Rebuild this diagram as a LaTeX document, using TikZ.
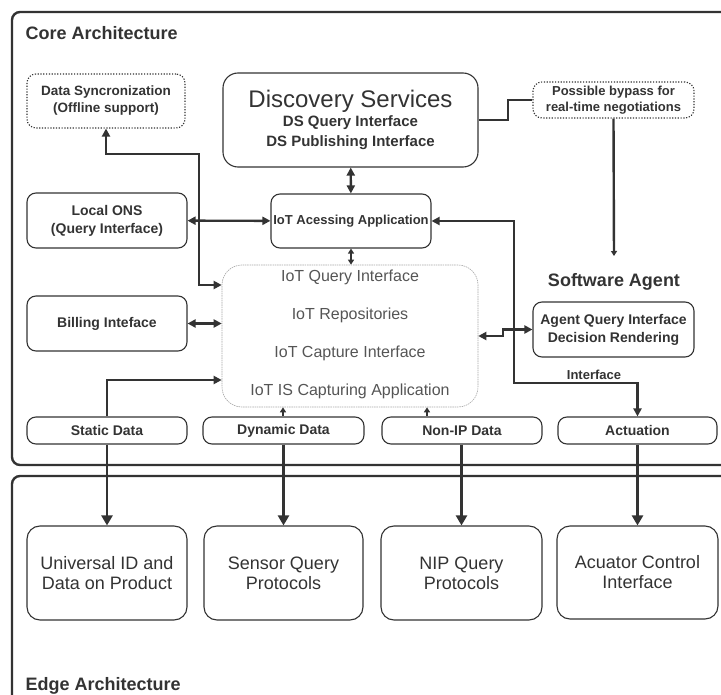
\documentclass[tikz,border=0pt]{standalone}
\usepackage{fontspec}
\setmainfont{Liberation Sans}
\usetikzlibrary{arrows.meta}
\definecolor{ink}{HTML}{333333}
\definecolor{soft}{HTML}{555555}

\begin{document}
\begin{tikzpicture}[x=1pt, y=-1pt, >={Triangle[length=8pt,width=8pt]},
    frame/.style={draw=ink, line width=2.4pt, rounded corners=8pt},
    box/.style={draw=ink, line width=1.1pt, rounded corners=9pt, align=center, inner sep=0pt,
        text=ink, font=\bfseries\fontsize{14}{18}\selectfont},
    dotbox/.style={box, dash pattern=on 1.2pt off 1.6pt},
    lowbox/.style={box, rounded corners=13pt, font=\fontsize{18}{20}\selectfont},
    iotbox/.style={draw=gray!70, line width=0.6pt, dash pattern=on 1.5pt off 0.8pt, rounded corners=20pt, inner sep=0pt},
    iottxt/.style={text=soft, font=\fontsize{16}{18}\selectfont},
    title/.style={text=ink, font=\bfseries\fontsize{18}{20}\selectfont},
    conn/.style={draw=ink, line width=2.4pt},
    tip/.style={>={Triangle[length=5pt,width=6pt]}},
    bigtip/.style={>={Triangle[length=10pt,width=11pt]}}]
    \useasboundingbox (0,0) rectangle (721,695);
    \clip (0,0) rectangle (721,695);
    % the two layers
    \draw[frame] (12,12) rectangle (760,465);
    \draw[frame] (12,476) rectangle (760,740);
    \node[title, anchor=base west] (coretitle) at (22,40) {Core Architecture};
    \node[title, anchor=base west] (edgetitle) at (22,690) {Edge Architecture};
    % core boxes
    \node[dotbox, minimum width=158pt, minimum height=54pt, font=\bfseries\fontsize{13.5}{17}\selectfont] (sync) at (106,101) {Data Syncronization\\(Offline support)};
    \node[box, rounded corners=15pt, minimum width=255pt, minimum height=94pt, font=\bfseries\fontsize{15}{20}\selectfont] (ds) at (350.5,120)
        {{\mdseries\fontsize{24}{24}\selectfont Discovery Services}\\[-1pt]DS Query Interface\\DS Publishing Interface};
    \node[dotbox, minimum width=161pt, minimum height=36pt, font=\bfseries\fontsize{13}{16}\selectfont] (bypass) at (613.5,100) {Possible bypass for\\real-time negotiations};
    \node[box, minimum width=160pt, minimum height=55pt] (ons) at (107,220.5) {Local ONS\\(Query Interface)};
    \node[box, minimum width=160pt, minimum height=54pt, font=\bfseries\fontsize{13}{16}\selectfont] (app) at (351,221) {IoT Acessing Application};
    \node[box, minimum width=160pt, minimum height=55pt] (bill) at (107,323.5) {Billing Inteface};
    \node[title] (satitle) at (614,282) {Software Agent};
    \node[box, minimum width=161pt, minimum height=55pt] (agent) at (613.5,329.5) {Agent Query Interface\\Decision Rendering};
    \node[iotbox, minimum width=256pt, minimum height=142pt] (iot) at (350,336) {};
    \node[iottxt] (iqi) at (350,277) {IoT Query Interface};
    \node[iottxt] (irep) at (350,315) {IoT Repositories};
    \node[iottxt] (icap) at (350,353) {IoT Capture Interface};
    \node[iottxt] (iis) at (350,391) {IoT IS Capturing Application};
    \node[box, minimum width=160pt, minimum height=27pt] (static) at (107,430.5) {Static Data};
    \node[box, minimum width=161pt, minimum height=27pt] (dyn) at (283.5,430.5) {Dynamic Data};
    \node[box, minimum width=160pt, minimum height=27pt] (nip) at (462,430.5) {Non-IP Data};
    \node[box, minimum width=159pt, minimum height=27pt] (act) at (637.5,430.5) {Actuation};
    \node[text=ink, font=\bfseries\fontsize{13}{15}\selectfont] (iflabel) at (594,375) {Interface};
    % edge boxes
    \node[lowbox, minimum width=160pt, minimum height=94pt] (uid) at (107,573) {Universal ID and\\Data on Product};
    \node[lowbox, minimum width=159pt, minimum height=94pt] (sensor) at (283.5,573) {Sensor Query\\Protocols};
    \node[lowbox, minimum width=161pt, minimum height=94pt] (nipq) at (461.5,573) {NIP Query\\Protocols};
    \node[lowbox, minimum width=161pt, minimum height=93pt] (actq) at (637.5,572.5) {Acuator Control\\Interface};
    % bends
    \coordinate (syncbend) at (199,154);
    \coordinate (bpbend) at (508,110);
    \coordinate (ifbend) at (514,383);
    \coordinate (agjog) at (503,336);
    \coordinate (satip) at (614,256);
    % connectors
    \draw[conn, <->] (ds) -- (app);
    \draw[conn, <->] (ons) -- (app);
    \draw[conn, <->] (sync.south) |- (syncbend) |- (iot.west |- 0,285);
    \draw[conn, <->] (bill) -- (iot.west |- bill);
    \draw[conn, ->] (static.north) |- (iot.west |- 0,380);
    \draw[conn, tip, ->] (dyn.north -| 283,0) -- (iot.south -| 283,0);
    \draw[conn, tip, ->] (nip.north -| 427,0) -- (iot.south -| 427,0);
    \draw[draw=ink, line width=1.2pt, tip, <->] (app.south) -- (iot.north -| app.south);
    \draw[conn] (ds.east) -| (bpbend) |- (bypass.west);
    \draw[conn, tip, ->] (bypass.south) -- (satip);
    \draw[conn, <->] (app.east) -| (ifbend) -| (act.north);
    \draw[conn, <->] (iot.east |- agjog) -- (agjog) |- (agent.west);
    \draw[conn, bigtip, ->] (static.south) -- (uid.north);
    \draw[conn, bigtip, ->] (dyn.south) -- (sensor.north);
    \draw[conn, bigtip, ->] (nip.south -| nipq) -- (nipq.north);
    \draw[conn, bigtip, ->] (act.south) -- (actq.north);
\end{tikzpicture}
\end{document}
